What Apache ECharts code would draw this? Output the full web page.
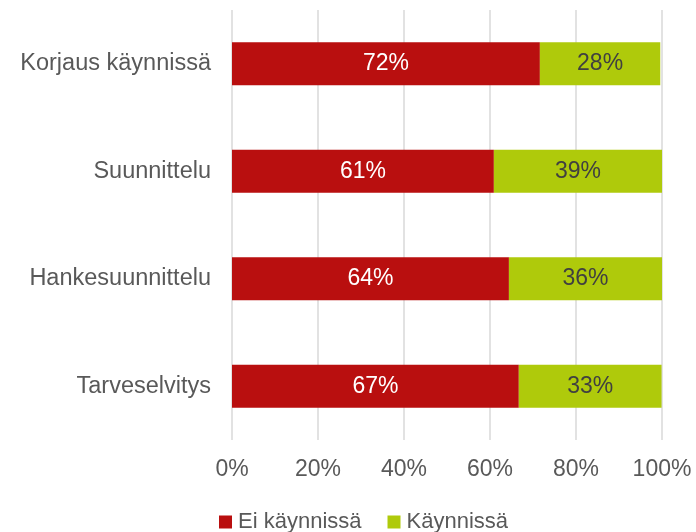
<!DOCTYPE html>
<html>
<head>
<meta charset="utf-8">
<script src="https://cdn.jsdelivr.net/npm/echarts@6/dist/echarts.min.js"></script>
<style>html,body{margin:0;padding:0;background:#fff}#c{width:696px;height:532px}</style>
</head>
<body>
<div id="c"></div>
<script>
const categories = ["Korjaus käynnissä", "Suunnittelu", "Hankesuunnittelu", "Tarveselvitys"];
const eiKaynnissa = [71.6, 60.9, 64.4, 66.7];
const kaynnissa = [28.0, 39.1, 36.1, 33.2];
const tickLabels = ["0%", "20%", "40%", "60%", "80%", "100%"];

const font = '"Liberation Sans", Arial, sans-serif';
const chart = echarts.init(document.getElementById('c'));
chart.setOption({
  animation: false,
  grid: { left: 232, right: 34, top: 10, bottom: 92 },
  legend: {
    top: 506, left: 214,
    itemWidth: 13, itemHeight: 13, itemGap: 26,
    icon: 'rect',
    textStyle: { fontFamily: font, fontSize: 22, color: '#595959', padding: [0,0,0,1] },
    data: ['Ei käynnissä', 'Käynnissä']
  },
  xAxis: {
    type: 'value', min: 0, max: 100, interval: 20,
    axisLine: { show: false }, axisTick: { show: false },
    splitLine: { lineStyle: { color: '#d9d9d9', width: 1.5 } },
    axisLabel: {
      margin: 18, fontFamily: font, fontSize: 23, color: '#595959',
      formatter: v => tickLabels[Math.round(v / 20)]
    }
  },
  yAxis: {
    type: 'category', data: categories, inverse: true,
    axisLine: { show: false }, axisTick: { show: false },
    axisLabel: { margin: 21, fontFamily: font, fontSize: 23.5, color: '#595959', padding: [4,0,0,0] }
  },
  series: [
    {
      name: 'Ei käynnissä', type: 'bar', stack: 'a', barWidth: 43,
      data: eiKaynnissa,
      itemStyle: { color: '#B90F0F' },
      label: { show: true, position: 'inside', color: '#ffffff', fontFamily: font, fontSize: 23,
        padding: [4,0,0,0], formatter: p => Math.round(p.value) + '%' }
    },
    {
      name: 'Käynnissä', type: 'bar', stack: 'a', barWidth: 43,
      data: kaynnissa,
      itemStyle: { color: '#AFCA0B' },
      label: { show: true, position: 'inside', color: '#404040', fontFamily: font, fontSize: 23,
        padding: [4,0,0,0], formatter: p => Math.round(p.value) + '%' }
    }
  ]
});
</script>
</body>
</html>
